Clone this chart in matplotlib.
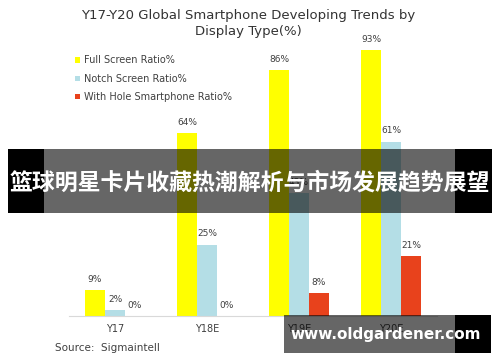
import matplotlib.pyplot as plt
import numpy as np
from matplotlib.patches import Rectangle

years = ["Y17", "Y18E", "Y19E", "Y20E"]
full_screen = [9, 64, 86, 93]
notch_screen = [2, 25, 43, 61]
with_hole = [0, 0, 8, 21]
series_names = ["Full Screen Ratio%", "Notch Screen Ratio%", "With Hole Smartphone Ratio%"]
series_colors = ["#FFFF00", "#B4DEE6", "#E8421C"]

W, H = 500, 362
TXT = "#404040"


def fx(px):
    return px / W


def fy(py):
    return 1 - py / H


def main():
    fig = plt.figure(figsize=(5, 3.62), dpi=100)
    ax = fig.add_axes([fx(69), fy(316), fx(437) - fx(69), (316 - 30) / H])

    x = np.arange(len(years))
    width = 0.218
    for k, (vals, name, color) in enumerate(zip([full_screen, notch_screen, with_hole],
                                                series_names, series_colors)):
        pos = x + (k - 1) * width
        ax.bar(pos, vals, width=width, color=color, label=name)
        for p, v in zip(pos, vals):
            ax.text(p, v + 2.2, f"{v}%", ha="center", va="bottom", fontsize=6.5, color=TXT)

    ax.set_xlim(-0.5, 3.5)
    ax.set_ylim(0, 100)
    ax.set_yticks([])
    ax.set_xticks(x)
    ax.set_xticklabels(years, fontsize=7, color=TXT)
    ax.tick_params(axis="x", length=0, pad=6)
    for s in ["top", "right", "left"]:
        ax.spines[s].set_visible(False)
    ax.spines["bottom"].set_color("#D9D9D9")

    fig.text(fx(248), fy(16), "Y17-Y20 Global Smartphone Developing Trends by",
             ha="center", va="center", fontsize=9.5, color="#333333")
    fig.text(fx(248), fy(31), "Display Type(%)", ha="center", va="center",
             fontsize=9.5, color="#333333")

    for i, (name, color) in enumerate(zip(series_names, series_colors)):
        yy = 60 + i * 18.5
        fig.patches.append(Rectangle((fx(75), fy(yy) - 2.5 / H), 5 / W, 5 / H,
                                     transform=fig.transFigure, color=color, lw=0))
        fig.text(fx(84), fy(yy), name, ha="left", va="center", fontsize=7, color=TXT)

    fig.text(fx(55), fy(348), "Source:  Sigmaintell", ha="left", va="center",
             fontsize=7.5, color=TXT)

    # overlay banner
    fig.patches.append(Rectangle((fx(8), fy(213)), (44 - 8) / W, (213 - 149) / H,
                                 transform=fig.transFigure, color="black", lw=0, zorder=10))
    fig.patches.append(Rectangle((fx(44), fy(213)), (455 - 44) / W, (213 - 149) / H,
                                 transform=fig.transFigure, color="black", alpha=0.6,
                                 lw=0, zorder=10))
    fig.patches.append(Rectangle((fx(455), fy(213)), (492 - 455) / W, (213 - 149) / H,
                                 transform=fig.transFigure, color="black", lw=0, zorder=10))
    fig.text(fx(250), fy(183), "篮球明星卡片收藏热潮解析与市场发展趋势展望",
             ha="center", va="center", fontsize=16.5, fontweight="bold", color="white",
             family=["Noto Sans CJK SC", "DejaVu Sans"], zorder=11)

    # watermark
    fig.patches.append(Rectangle((fx(284), fy(353)), (455 - 284) / W, (353 - 315) / H,
                                 transform=fig.transFigure, color="black", alpha=0.6,
                                 lw=0, zorder=10))
    fig.patches.append(Rectangle((fx(455), fy(353)), (491 - 455) / W, (353 - 315) / H,
                                 transform=fig.transFigure, color="black", lw=0, zorder=10))
    fig.text(fx(386), fy(335), "www.oldgardener.com", ha="center", va="center",
             fontsize=11, fontweight="bold", color="white", zorder=11)

    fig.savefig("out.png", dpi=100)
    plt.close(fig)


if __name__ == "__main__":
    main()
